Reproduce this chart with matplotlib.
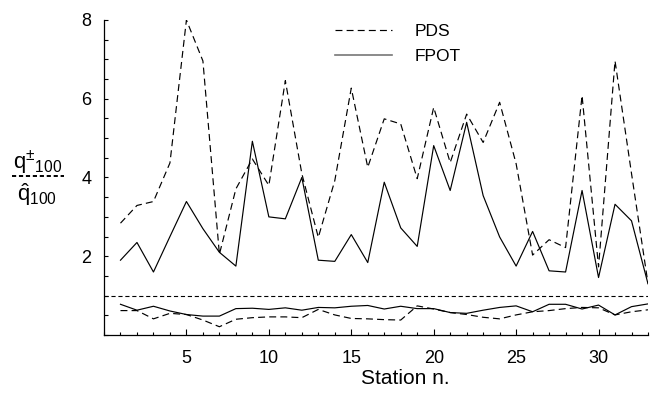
import matplotlib
matplotlib.use("Agg")
import matplotlib.pyplot as plt
from matplotlib.lines import Line2D
from matplotlib.ticker import MultipleLocator

plt.rcParams['font.family'] = ['Liberation Sans', 'DejaVu Sans']
plt.rcParams['mathtext.fontset'] = 'custom'
plt.rcParams['mathtext.rm'] = 'Liberation Sans'
plt.rcParams['lines.scale_dashes'] = False

# data
stations = list(range(1, 34))
pds_upper = [2.84, 3.29, 3.39, 4.37, 8.0, 6.96, 2.05, 3.71, 4.47, 3.8, 6.46,
             4.1, 2.48, 3.92, 6.27, 4.26, 5.49, 5.36, 3.97, 5.78, 4.38, 5.61,
             4.89, 5.91, 4.35, 2.03, 2.42, 2.22, 6.08, 1.73, 6.96, 4.1, 1.31]
fpot_upper = [1.9, 2.35, 1.6, 2.5, 3.39, 2.7, 2.1, 1.75, 4.92, 3.0, 2.95,
              4.0, 1.9, 1.87, 2.55, 1.84, 3.88, 2.72, 2.25, 4.81, 3.67, 5.4,
              3.54, 2.49, 1.75, 2.63, 1.63, 1.6, 3.67, 1.46, 3.32, 2.9, 1.3]
pds_lower = [0.62, 0.62, 0.41, 0.55, 0.52, 0.38, 0.21, 0.40, 0.44, 0.46, 0.46,
             0.44, 0.65, 0.51, 0.42, 0.41, 0.39, 0.38, 0.74, 0.66, 0.57, 0.52,
             0.45, 0.41, 0.51, 0.59, 0.62, 0.67, 0.70, 0.69, 0.51, 0.59, 0.64]
fpot_lower = [0.78, 0.63, 0.73, 0.61, 0.52, 0.48, 0.48, 0.67, 0.68, 0.65, 0.69,
              0.63, 0.70, 0.69, 0.73, 0.75, 0.66, 0.73, 0.67, 0.67, 0.57, 0.55,
              0.63, 0.70, 0.74, 0.59, 0.78, 0.78, 0.66, 0.76, 0.51, 0.72, 0.79]
ref_level = 1.0
series_labels = ['PDS', 'FPOT']

W, H = 662, 403
fig = plt.figure(figsize=(W / 100, H / 100), dpi=100)
ax = fig.add_axes([104 / W, 1 - 335 / H, (648 - 104) / W, (335 - 20) / H])

dash = (5, 3)
lw = 0.85
ax.plot(stations, pds_upper, color='black', lw=lw, dashes=dash)
ax.plot(stations, fpot_upper, color='black', lw=lw)
ax.plot(stations, pds_lower, color='black', lw=lw, dashes=dash)
ax.plot(stations, fpot_lower, color='black', lw=lw)
ax.axhline(ref_level, color='black', lw=0.8, dashes=(3, 2))

ax.set_xlim(0, 33)
ax.set_ylim(0, 8)

#only left and bottom axis
ax.spines['top'].set_visible(False)
ax.spines['right'].set_visible(False)
ax.spines['left'].set_linewidth(0.9)
ax.spines['bottom'].set_linewidth(0.9)

ax.xaxis.set_major_locator(MultipleLocator(5))
ax.xaxis.set_minor_locator(MultipleLocator(1))
ax.yaxis.set_major_locator(MultipleLocator(2))
ax.yaxis.set_minor_locator(MultipleLocator(0.5))
ax.set_xticks([5, 10, 15, 20, 25, 30])
ax.set_yticks([2, 4, 6, 8])

ax.tick_params(axis='x', which='major', direction='in', length=4, width=0.8,
               pad=11, labelsize=13)
ax.tick_params(axis='x', which='minor', direction='in', length=2.5, width=0.8)
ax.tick_params(axis='y', which='major', direction='in', length=3, width=0.8,
               pad=9, labelsize=13)
ax.tick_params(axis='y', which='minor', direction='in', length=3, width=0.8)

# legend
handles = [Line2D([], [], color='black', lw=lw, dashes=dash),
           Line2D([], [], color='#777777', lw=1.2)]
ax.legend(handles, series_labels, loc='center left',
          bbox_to_anchor=(335 / W, 1 - 44 / H), bbox_transform=fig.transFigure,
          frameon=False, fontsize=12.5, handlelength=3.3, handletextpad=1.3,
          labelspacing=0.55, borderpad=0, borderaxespad=0)

# x label
fig.text(405 / W, 1 - 378 / H, 'Station n.', ha='center', va='center',
         fontsize=15)

# y label as a fraction with dashed bar
fig.text(38 / W, 1 - 163 / H, r'$\mathregular{q^{\pm}{}_{100}}$',
         ha='center', va='center', fontsize=16)
fig.text(37 / W, 1 - 195 / H, r'$\mathregular{\hat{q}_{100}}$',
         ha='center', va='center', fontsize=16)
bar = Line2D([12 / W, 64 / W], [1 - 176 / H, 1 - 176 / H], color='black',
             lw=1.4, dashes=(3, 2), transform=fig.transFigure)
fig.add_artist(bar)

fig.savefig('out.png', dpi=100)
